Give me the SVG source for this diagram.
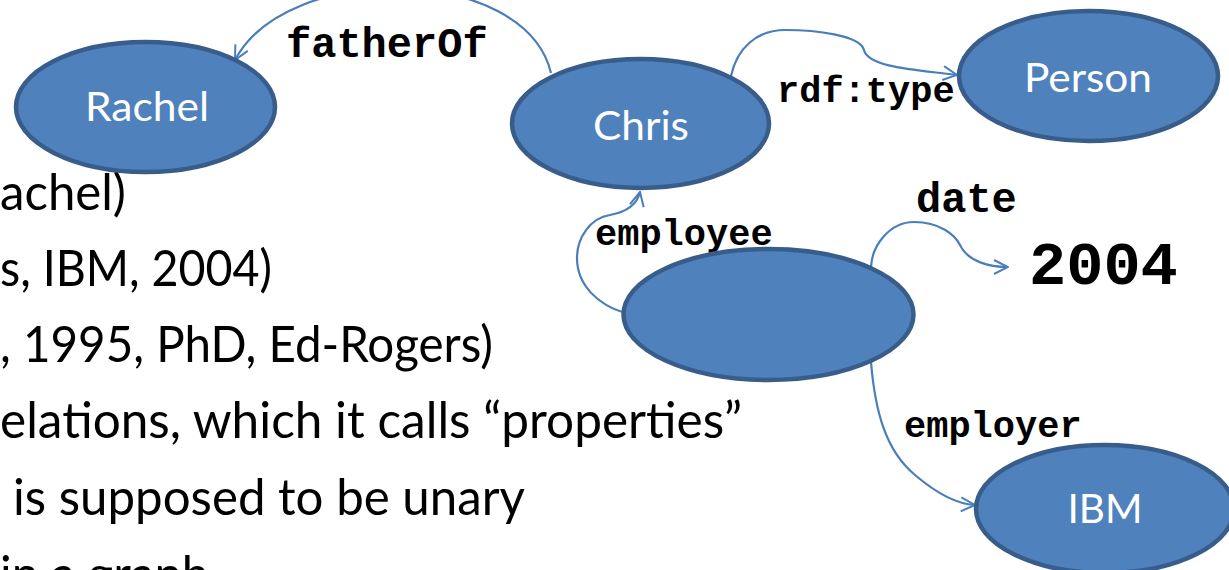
<svg xmlns="http://www.w3.org/2000/svg" width="1229" height="570" viewBox="0 0 1229 570">
  <style>
    .node ellipse { fill: #4F81BD; stroke: #385D8A; stroke-width: 4.5; }
    .nlabel { font-family: Lato, "Open Sans", sans-serif; font-size: 40px; fill: #FFFFFF; text-anchor: middle; }
    .edge { fill: none; stroke: #4A7EBB; stroke-width: 2.2; marker-end: url(#arr); }
    .elabel { font-family: "Liberation Mono", "Courier New", monospace; font-weight: bold; fill: #000000; }
    .body { font-family: Lato, "Open Sans", sans-serif; font-size: 50px; fill: #000000; }
  </style>
  <defs>
    <marker id="arr" viewBox="0 0 16 16" refX="15" refY="8" markerWidth="16" markerHeight="16" markerUnits="userSpaceOnUse" orient="auto">
      <path d="M1,1 L15,8 L1,15" fill="none" stroke="#4A7EBB" stroke-width="2"/>
    </marker>
  </defs>
  <rect width="1229" height="570" fill="#FFFFFF"/>

  <g id="body-text">
    <text class="body" x="0" y="210" textLength="126" lengthAdjust="spacingAndGlyphs">achel)</text>
    <text class="body" x="0" y="286" textLength="272" lengthAdjust="spacingAndGlyphs">s, IBM, 2004)</text>
    <text class="body" x="0" y="362" textLength="493" lengthAdjust="spacingAndGlyphs">, 1995, PhD, Ed-Rogers)</text>
    <text class="body" x="0" y="438" textLength="742" lengthAdjust="spacingAndGlyphs">elations, which it calls “properties”</text>
    <text class="body" x="13" y="515" textLength="512" lengthAdjust="spacingAndGlyphs">is supposed to be unary</text>
    <text class="body" x="0" y="592" textLength="209" lengthAdjust="spacingAndGlyphs">in a graph</text>
  </g>

  <g id="connectors">
    <path id="e-fatherOf" class="edge" d="M551,73 C525,-35 288,-40 235,60"/>
    <path id="e-type" class="edge" d="M731,76 C737,48 757,30 785,30 C815,30 860,35 864,50 C868,68 920,70 957,75"/>
    <path id="e-employee" class="edge" d="M625,313 C598,305 577,285 577,258 C577,238 590,218 610,215 C626,212 637,205 640,192"/>
    <path id="e-date" class="edge" d="M871,267 C872,245 890,222 914,222 C940,222 955,235 960,245 C968,262 990,267 1008,267"/>
    <path id="e-employer" class="edge" d="M871,362 C875,410 885,450 915,475 C935,492 955,504 975,505"/>
    <text class="elabel" x="286" y="57" font-size="42">fatherOf</text>
    <text class="elabel" x="777" y="102" font-size="37">rdf:type</text>
    <text class="elabel" x="595" y="245" font-size="37">employee</text>
    <text class="elabel" x="916" y="212" font-size="42">date</text>
    <text class="elabel" x="904" y="437" font-size="37">employer</text>
  </g>

  <g id="node-rachel" class="node">
    <ellipse cx="145.5" cy="107" rx="129.5" ry="65"/>
    <text class="nlabel" x="147" y="121" textLength="124" lengthAdjust="spacingAndGlyphs">Rachel</text>
  </g>
  <g id="node-chris" class="node">
    <ellipse cx="640.5" cy="123.5" rx="128.5" ry="64.5"/>
    <text class="nlabel" x="641" y="140" textLength="96" lengthAdjust="spacingAndGlyphs">Chris</text>
  </g>
  <g id="node-person" class="node">
    <ellipse cx="1088.5" cy="76" rx="129.5" ry="65"/>
    <text class="nlabel" x="1088" y="92" textLength="128" lengthAdjust="spacingAndGlyphs">Person</text>
  </g>
  <g id="node-blank" class="node">
    <ellipse cx="768.5" cy="314.5" rx="145" ry="65.5"/>
  </g>
  <g id="node-ibm" class="node">
    <ellipse cx="1105" cy="509" rx="129" ry="64"/>
    <text class="nlabel" x="1105" y="523" textLength="75" lengthAdjust="spacingAndGlyphs">IBM</text>
  </g>
  <g id="node-2004">
    <text class="elabel" x="1029" y="284" font-size="62">2004</text>
  </g>
</svg>
